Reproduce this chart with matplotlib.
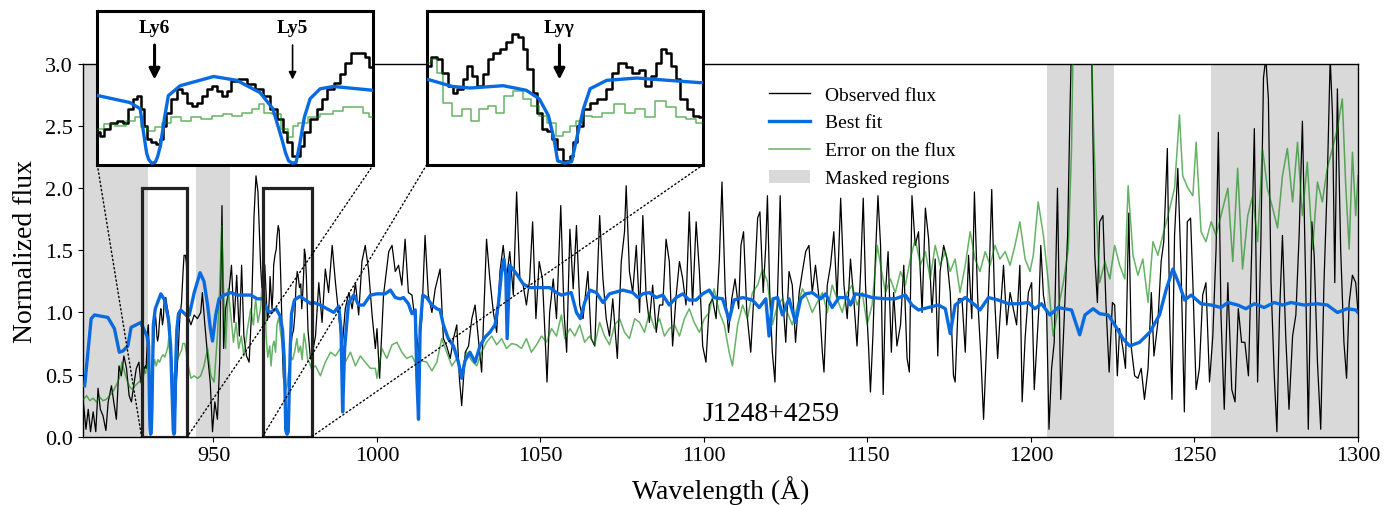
"""Lyman-series fit of J1248+4259: observed flux, best fit, error and masked regions,
with two zoom-in insets on Ly6/Ly5 and Ly-gamma."""
import numpy as np
import matplotlib.pyplot as plt
from matplotlib.patches import Rectangle, Patch, ConnectionPatch
from matplotlib.lines import Line2D

plt.rcParams.update({
    "font.family": "serif", "font.serif": ["Liberation Serif", "DejaVu Serif"],
    "font.size": 16, "xtick.labelsize": 16, "ytick.labelsize": 16,
    "axes.labelsize": 20, "axes.linewidth": 1.0,
})

# ------------------------------------------------------------
# data (rest-frame wavelength in A, normalized flux)
# ------------------------------------------------------------
obs_wave = [
    910.2, 911.0, 911.7, 912.4, 913.2, 914.0, 914.7, 915.4, 916.2, 917.1, 917.8, 918.8, 919.5, 920.3,
    921.1, 921.8, 922.6, 923.4, 924.2, 924.9, 925.6, 926.4, 927.2, 927.7,
    928.05, 928.2, 928.5, 928.8, 929.2, 929.4, 929.7, 929.9, 930.1, 930.3, 930.4, 930.6, 930.8, 931.1,
    931.3, 931.4, 931.6, 931.9, 932.2, 932.4, 932.7, 932.9, 933.2, 933.4, 933.7, 933.9, 934.2, 934.4,
    934.7, 934.9, 935.4, 935.8, 936.2, 936.6, 936.9, 937.3, 937.5, 937.7, 938.0, 938.2, 938.4, 938.6,
    939.0, 939.3, 939.5, 939.8, 940.2, 940.4, 940.7, 941.0, 941.4, 941.7, 941.9,
    942.1, 943.1, 944.1, 945.1, 946.1, 946.6, 947.3, 948.2, 949.0, 949.7, 950.4, 951.2, 951.9, 952.6,
    953.1, 953.7, 954.8, 955.5, 956.3, 957.1, 957.9, 958.6, 959.3, 960.1, 960.9, 961.6, 962.4, 963.0,
    963.6, 964.4, 964.8,
    965.1, 965.4, 965.7, 966.0, 966.3, 966.5, 966.8, 967.1, 967.3, 967.6, 967.9, 968.2, 968.4, 968.8,
    969.2, 969.4, 969.8, 970.1, 970.3, 970.6, 970.9, 971.1, 971.4, 971.7, 971.9, 972.2, 972.6, 972.9,
    973.0, 973.3, 973.7, 974.0, 974.5, 974.9, 975.2, 975.6, 976.0, 976.3, 976.7, 977.0, 977.3, 977.6,
    977.8, 978.1, 978.4, 978.6, 978.9, 979.3, 979.6, 979.9,
    981.2, 982.2, 983.2, 984.2, 985.2, 986.3, 987.3, 988.3, 989.3, 990.3, 991.4, 992.4, 993.4, 994.4,
    995.4, 996.4, 997.4, 998.5, 999.5,
    1000.0, 1000.8, 1002.0, 1003.6, 1004.6, 1005.6, 1006.6, 1007.6, 1008.6, 1009.6, 1010.7, 1011.7,
    1012.7, 1013.7, 1014.7, 1015.7, 1016.8, 1017.8, 1019.3, 1020.3, 1021.3, 1022.4, 1023.4, 1024.4,
    1025.2, 1025.9, 1027.0, 1028.0, 1029.0, 1030.0, 1031.0, 1032.0, 1033.5, 1034.5, 1035.6, 1036.6,
    1037.6, 1038.6, 1039.6, 1040.6, 1041.7, 1042.7, 1043.7, 1044.7, 1045.7, 1046.7, 1047.6, 1048.6,
    1049.6, 1050.6, 1051.3, 1052.0, 1052.8, 1053.9, 1054.9, 1056.2, 1057.2, 1058.0, 1059.0, 1060.0,
    1061.0, 1062.0, 1063.0, 1064.5, 1065.5, 1066.6, 1068.1, 1069.1, 1070.1, 1071.1, 1072.1, 1073.5,
    1074.7, 1075.7, 1076.2, 1077.2, 1078.2, 1079.3, 1080.3, 1081.3, 1082.3, 1083.3, 1084.3, 1085.4,
    1086.4, 1087.4, 1088.4, 1089.4, 1090.4, 1091.5, 1092.5, 1093.5, 1094.5, 1095.5, 1096.5, 1097.6,
    1098.6, 1099.6, 1100.6, 1101.6, 1102.6, 1103.7,
    1104.7, 1105.5, 1106.5, 1107.5, 1108.5, 1109.5, 1110.6, 1111.3, 1112.1, 1113.1, 1114.3, 1115.3,
    1116.4, 1117.1, 1118.1, 1118.9, 1119.4, 1120.1, 1120.9, 1121.7, 1122.8, 1123.3, 1124.0, 1125.0,
    1126.0, 1127.0, 1128.0, 1129.1, 1130.1, 1131.1, 1132.1, 1133.1, 1134.1, 1135.2, 1136.2, 1136.7,
    1137.7, 1138.7, 1139.7, 1140.7, 1141.8, 1142.8, 1143.8, 1144.8, 1145.8, 1146.8, 1147.9, 1148.7,
    1149.4, 1150.4, 1150.9, 1151.7, 1152.4, 1153.2, 1154.0, 1154.8, 1155.5, 1156.3, 1157.3, 1158.0,
    1159.0, 1160.1, 1161.1, 1162.1, 1162.8, 1163.6, 1164.6, 1165.6, 1166.7, 1167.7, 1168.7, 1169.7,
    1170.7, 1171.5, 1172.2, 1173.3, 1174.3, 1175.3, 1176.3, 1176.8, 1177.8, 1178.9, 1179.9, 1180.9,
    1181.9, 1182.7, 1183.7, 1184.7, 1185.5, 1186.5, 1187.3, 1188.0, 1188.8, 1189.8, 1190.5, 1191.6,
    1192.6, 1193.6, 1194.6, 1195.6, 1196.6, 1197.3, 1198.2, 1199.2,
    1200.2, 1201.0, 1201.7, 1202.4, 1203.0, 1203.8, 1204.8, 1205.5, 1206.3, 1207.1, 1208.1, 1209.1,
    1210.2, 1211.2, 1211.9, 1212.4, 1213.4, 1215.4, 1217.5, 1218.5, 1219.5, 1220.3, 1221.0, 1222.0,
    1222.9, 1223.9, 1224.9, 1225.6, 1226.4, 1227.1, 1228.1, 1228.9, 1229.9, 1230.7, 1231.7, 1232.7,
    1233.7, 1234.7, 1235.8, 1236.8, 1237.6, 1238.8, 1239.8, 1240.6, 1241.7, 1242.4, 1243.1, 1243.9,
    1244.9, 1245.9, 1246.9, 1247.8, 1248.8, 1249.5, 1250.5, 1251.5, 1252.5, 1253.5, 1254.6, 1255.6,
    1256.6, 1257.3, 1258.1, 1259.1, 1260.2, 1261.4, 1262.4, 1263.4, 1264.4, 1265.4, 1266.5, 1267.5,
    1268.3, 1269.3, 1270.3, 1271.1, 1271.8, 1272.6, 1273.4, 1274.4, 1275.2, 1276.0, 1276.9, 1277.9,
    1278.9, 1280.0, 1281.0, 1282.0, 1283.0, 1284.0, 1284.8, 1285.9, 1286.6, 1287.6, 1288.6, 1289.6,
    1290.6, 1291.5, 1292.2, 1292.9, 1293.7, 1294.7, 1295.7, 1296.5, 1297.3, 1298.3, 1299.3, 1300.0,
]
obs_flux = [
    0.28, 0.06, 0.22, 0.04, 0.20, 0.04, 0.39, 0.22, 0.17, 0.05, 0.28, 0.41, 0.28, 0.14,
    0.57, 0.49, 0.65, 0.55, 0.33, 0.28, 0.41, 0.55, 0.60, 0.45,
    0.42, 0.38, 0.46, 0.55, 0.57, 0.55, 0.73, 0.86, 0.90, 0.73, 0.51, 0.33, 0.29, 0.27,
    0.33, 0.51, 0.68, 0.86, 0.99, 0.94, 0.81, 0.77, 0.81, 0.90, 0.99, 1.03, 0.96, 0.90,
    0.96, 1.09, 1.12, 1.05, 0.99, 0.90, 0.73, 0.60, 0.42, 0.29, 0.12, 0.12, 0.25, 0.42,
    0.60, 0.73, 0.86, 0.99, 1.07, 1.18, 1.33, 1.46, 1.46, 1.40, 1.27,
    0.98, 0.90, 0.98, 0.95, 1.00, 1.16, 0.92, 0.65, 0.44, 0.04, 0.28, 0.14, 0.60, 1.86,
    0.71, 1.03, 1.19, 1.38, 0.92, 1.30, 0.81, 1.38, 0.81, 0.65, 0.60, 0.98, 1.78, 2.10,
    1.97, 1.38, 1.20,
    1.29, 1.40, 1.38, 1.20, 1.03, 0.94, 0.99, 1.12, 1.29, 1.16, 1.03, 1.18, 1.38, 1.46,
    1.51, 1.60, 1.70, 1.66, 1.51, 1.25, 0.94, 0.68, 0.47, 0.44, 0.33, 0.20, 0.05, 0.12,
    0.29, 0.51, 0.73, 0.81, 0.86, 0.99, 1.20, 1.33, 1.27, 1.20, 1.23, 1.03, 1.16, 1.33,
    1.51, 1.46, 1.29, 1.12, 0.86, 0.73, 0.64, 0.62,
    0.81, 1.24, 0.92, 1.35, 1.16, 1.54, 1.24, 0.98, 0.70, 1.03, 1.16, 1.03, 1.24, 0.98,
    1.41, 1.54, 1.35, 0.98, 0.71,
    0.87, 0.47, 1.14, 1.49, 1.54, 1.33, 1.38, 1.22, 1.59, 1.16, 1.14, 0.92,
    0.68, 0.95, 1.62, 1.14, 1.00, 1.19, 1.35, 0.79, 0.73, 0.63, 0.79, 0.90,
    0.47, 0.25, 0.68, 0.73, 0.95, 1.06, 0.79, 0.52, 1.59, 1.27, 1.00, 0.84,
    1.33, 1.54, 1.27, 1.49, 1.14, 1.97, 1.27, 1.22, 1.06, 1.27, 1.73, 0.95,
    1.41, 1.27, 0.87, 0.44, 1.00, 1.27, 0.95, 1.86, 1.00, 0.68, 1.67, 1.19,
    1.70, 1.06, 0.95, 1.33, 0.79, 0.73, 1.78, 1.27, 0.95, 0.81, 1.11, 0.63,
    1.41, 1.65, 2.02, 1.33, 1.16, 1.54, 1.00, 1.78, 1.14, 0.92, 1.22, 0.84,
    1.06, 1.06, 1.59, 1.41, 0.73, 1.14, 1.41, 1.27, 1.06, 1.81, 1.06, 1.73,
    1.33, 0.73, 0.60, 1.06, 1.11, 0.95,
    1.43, 2.05, 1.16, 0.84, 1.11, 1.27, 1.03, 1.54, 1.65, 1.00, 0.68, 1.16,
    1.76, 1.81, 1.16, 1.54, 1.94, 1.16, 0.68, 0.44, 1.43, 1.94, 1.16, 0.76,
    1.33, 1.22, 0.76, 1.16, 1.33, 1.49, 1.54, 1.16, 1.38, 1.11, 0.68, 0.52,
    1.22, 1.38, 1.65, 1.11, 1.92, 1.22, 0.95, 1.43, 1.11, 0.73, 1.33, 1.92,
    1.22, 0.68, 0.36, 0.84, 1.43, 1.94, 1.54, 0.34, 1.16, 1.49, 0.68, 1.16,
    0.73, 0.90, 1.38, 0.63, 0.52, 1.94, 1.54, 1.65, 1.00, 1.84, 1.59, 1.00,
    1.43, 0.65, 1.33, 1.54, 1.43, 1.16, 0.49, 0.44, 1.11, 1.11, 0.68, 1.46,
    0.95, 1.97, 1.11, 0.63, 0.14, 0.79, 1.38, 1.99, 1.16, 0.63, 0.95, 1.38,
    0.90, 1.16, 1.03, 0.90, 1.38, 0.28, 0.79, 1.16,
    1.24, 0.38, 0.71, 1.03, 1.54, 1.14, 0.98, 0.06, 0.55, 0.76, 2.00, 0.30,
    0.98, 1.62, 2.59, 3.20, 4.00, 4.50, 4.00, 3.20, 1.46, 1.08, 1.73, 1.78,
    1.08, 0.52, 1.08, 1.06, 0.49, 0.87, 0.71, 0.55, 1.80, 0.71, 0.49, 0.47,
    0.55, 0.30, 0.55, 1.16, 0.65, 0.92, 1.41, 1.57, 2.32, 0.98, 0.30, 1.62,
    2.16, 1.35, 0.20, 1.73, 1.76, 1.24, 0.38, 0.55, 1.14, 1.24, 0.44, 0.81,
    1.51, 2.45, 0.98, 0.22, 1.24, 0.38, 0.28, 1.03, 0.76, 0.76, 0.49, 1.51,
    2.48, 0.44, 1.57, 2.89, 3.05, 2.72, 1.24, 0.49, 0.04, 0.98, 1.62, 0.81,
    0.22, 0.81, 0.98, 1.62, 2.54, 1.24, 0.06, 1.73, 1.46, 0.60, 0.06, 1.24,
    2.05, 3.05, 2.59, 1.24, 2.80, 1.51, 0.76, 0.47, 1.08, 1.30, 1.24, 1.00,
]

err_wave = [
    910.2, 911.2, 912.2, 913.2, 914.2, 915.2, 916.2, 917.2, 918.2, 919.2, 920.2, 921.2, 922.0, 922.8,
    923.6, 924.4, 925.2, 926.0, 926.8, 927.6,
    928.1, 928.6, 929.2, 929.7, 930.1, 930.3, 930.7, 931.1, 931.5, 932.0, 932.5, 933.0, 933.5, 934.1,
    934.6, 935.1, 935.6, 936.1, 936.3, 936.6, 937.1, 937.5, 937.8, 938.0, 938.4, 939.0, 939.6, 940.3,
    940.6, 941.2, 941.7, 941.9,
    943.1, 944.1, 945.1, 946.1, 947.1, 948.2, 949.2, 950.2, 951.2, 951.9, 952.5, 953.0, 953.7, 954.5,
    955.3, 956.1, 956.9, 957.7, 958.5, 959.3, 960.4, 961.4, 962.2, 962.9, 963.6, 964.4,
    965.1, 965.4, 965.7, 966.1, 966.6, 967.2, 967.6, 968.1, 968.5, 969.0, 969.4, 970.0, 970.4, 970.9,
    971.3, 971.8, 972.2, 972.6, 972.9, 973.3, 973.7, 974.2, 974.8, 975.5, 976.0, 976.6, 977.1, 977.7,
    978.2, 978.8, 979.3, 979.9,
    981.2, 982.7, 984.2, 985.8, 987.3, 988.8, 990.3, 991.9, 993.4, 994.9, 996.4, 998.0, 999.5,
    1000.0, 1001.5, 1003.0, 1004.6, 1006.1, 1007.6, 1009.1, 1010.7, 1012.2, 1013.7, 1015.2, 1016.8,
    1018.3, 1019.8, 1021.3, 1022.9, 1024.4, 1025.9, 1027.4, 1029.0, 1030.5, 1032.0, 1033.5, 1035.1,
    1036.6, 1038.1, 1039.6, 1041.2, 1042.7, 1044.2, 1045.7, 1047.2, 1048.8, 1050.3, 1051.8, 1053.4,
    1054.9, 1056.4, 1057.4, 1059.0, 1060.5, 1062.0, 1063.5, 1065.0, 1066.6, 1068.1, 1069.6, 1071.1,
    1072.7, 1074.2, 1075.7, 1077.2, 1078.8, 1080.3, 1081.8, 1083.3, 1084.9, 1086.4, 1087.9, 1089.4,
    1091.0, 1092.5, 1094.0, 1095.5, 1097.0, 1098.6, 1100.1, 1101.6, 1103.1,
    1104.7, 1106.2, 1107.7, 1108.7, 1110.3, 1111.8, 1113.3, 1114.8, 1116.4, 1117.9, 1119.4, 1120.9,
    1122.5, 1124.0, 1125.5, 1127.0, 1128.6, 1130.1, 1131.6, 1133.1, 1134.6, 1136.2, 1137.7, 1139.2,
    1140.7, 1142.3, 1143.8, 1145.3, 1146.8, 1148.4, 1149.9, 1151.4, 1153.0, 1154.0, 1155.5, 1157.0,
    1158.5, 1160.1, 1161.6, 1163.1, 1164.6, 1166.2, 1167.7, 1169.2, 1170.7, 1172.2, 1173.8, 1175.3,
    1176.8, 1178.3, 1179.9, 1181.4, 1182.9, 1184.4, 1186.0, 1187.5, 1189.0, 1190.5, 1192.1, 1193.6,
    1195.1, 1196.6, 1198.2, 1199.7,
    1200.7, 1202.2, 1203.8, 1205.3, 1206.8, 1208.3, 1209.9, 1211.4, 1212.4, 1212.9, 1214.4, 1217.0,
    1218.5, 1219.0, 1220.0, 1221.0, 1222.6, 1224.1, 1225.6, 1227.1, 1228.7, 1229.7, 1231.2, 1232.7,
    1234.2, 1235.8, 1237.3, 1238.8, 1240.3, 1241.9, 1243.9, 1245.4, 1246.4, 1248.0, 1249.5, 1250.5,
    1252.0, 1253.5, 1255.1, 1256.6, 1258.1, 1260.2, 1261.7, 1263.2, 1264.7, 1266.3, 1267.8, 1269.3,
    1270.8, 1272.3, 1273.9, 1275.4, 1276.9, 1278.4, 1280.0, 1281.5, 1283.0, 1284.5, 1286.1, 1287.6,
    1289.1, 1290.6, 1292.2, 1293.7, 1295.2, 1296.2, 1297.3, 1298.3, 1299.3, 1300.0,
]
err_flux = [
    0.30, 0.33, 0.29, 0.31, 0.28, 0.32, 0.29, 0.30, 0.33, 0.36, 0.41, 0.47, 0.60, 0.52,
    0.45, 0.40, 0.38, 0.41, 0.43, 0.45,
    0.47, 0.53, 0.51, 0.57, 0.62, 0.49, 0.44, 0.49, 0.55, 0.62, 0.57, 0.62, 0.60, 0.64,
    0.66, 0.64, 0.68, 0.73, 0.79, 0.68, 0.66, 0.47, 0.36, 0.51, 0.55, 0.62, 0.66, 0.70,
    0.75, 0.75, 0.68, 0.62,
    0.47, 0.49, 0.47, 0.49, 0.57, 0.71, 0.49, 0.44, 0.81, 1.19, 1.70, 1.24, 0.71, 1.19,
    0.98, 0.76, 0.92, 0.71, 0.81, 0.65, 0.87, 1.03, 0.90, 1.11, 0.92, 1.03,
    1.33, 1.38, 1.20, 0.81, 0.64, 0.73, 0.57, 0.73, 0.77, 0.68, 0.90, 0.96, 0.86, 0.77,
    0.64, 0.55, 0.38, 0.42, 0.51, 0.57, 0.64, 0.62, 0.68, 0.79, 0.68, 0.73, 0.62, 0.83,
    0.75, 0.62, 0.60, 0.55,
    0.57, 0.49, 0.60, 0.68, 0.65, 0.71, 0.60, 0.68, 0.57, 0.65, 0.60, 0.55, 0.55,
    0.47, 0.71, 0.63, 0.74, 0.76, 0.68, 0.63, 0.65, 0.57, 0.61, 0.60, 0.53,
    0.60, 0.79, 0.68, 0.57, 0.63, 0.52, 0.68, 0.61, 0.57, 0.68, 0.76, 0.81,
    0.74, 0.79, 0.71, 0.75, 0.74, 0.71, 0.79, 0.68, 0.74, 0.81, 0.76, 0.87,
    0.81, 0.98, 0.79, 0.87, 0.81, 0.90, 0.76, 0.81, 0.74, 0.92, 0.81, 0.74,
    0.90, 0.95, 0.84, 0.79, 0.95, 0.92, 0.84, 1.00, 0.87, 0.95, 0.81, 0.87,
    0.90, 0.81, 0.95, 1.03, 0.92, 0.84, 0.95, 1.00, 1.19,
    1.00, 0.90, 0.68, 0.57, 0.90, 1.06, 0.95, 1.16, 1.22, 1.35, 1.25, 0.90,
    1.06, 1.11, 1.00, 0.90, 1.06, 1.19, 1.11, 1.00, 1.08, 1.16, 1.00, 1.22,
    1.11, 1.00, 1.16, 1.22, 1.06, 1.16, 0.90, 1.06, 1.54, 1.38, 1.16, 1.27,
    1.16, 1.33, 1.22, 1.43, 1.59, 1.38, 1.49, 1.27, 1.54, 1.38, 1.49, 1.33,
    1.43, 1.16, 1.38, 1.65, 1.43, 1.33, 1.49, 1.38, 1.54, 1.43, 1.49, 1.38,
    1.54, 1.73, 1.43, 1.33,
    1.46, 1.89, 1.62, 1.24, 0.81, 1.03, 1.24, 1.51, 2.32, 3.20, 4.00, 4.00,
    3.20, 2.59, 1.78, 1.24, 1.41, 1.27, 1.54, 1.38, 1.27, 2.02, 1.46, 1.30,
    1.43, 1.08, 1.57, 1.46, 1.62, 1.78, 2.00, 2.59, 2.10, 2.00, 1.94, 2.37,
    1.65, 1.57, 1.73, 1.62, 1.78, 2.00, 1.41, 2.16, 1.35, 1.78, 1.94, 1.57,
    2.32, 2.00, 1.84, 1.68, 2.10, 2.32, 1.89, 2.37, 1.78, 2.21, 1.51, 2.05,
    1.89, 2.16, 2.32, 2.48, 2.72, 2.05, 1.51, 2.29, 1.78, 2.10,
]

fit_wave = [
    910.6, 912.6, 913.6, 917.7, 919.7, 921.2, 922.3, 923.8, 924.8, 926.3, 927.8,
    928.05, 929.66, 930.17, 930.34, 930.5, 930.6, 930.75, 930.93, 931.05, 931.2, 931.4, 931.6, 932.2,
    933.9, 935.07, 936.25, 936.9, 937.35, 937.55, 937.7, 937.9, 938.08, 938.28, 938.5, 938.79, 939.3,
    939.97, 942.0,
    942.6, 944.1, 945.9, 947.1, 948.2, 949.0, 949.7, 950.7, 951.7, 953.2, 955.3, 957.3, 959.3, 961.4,
    963.4,
    965.09, 966.4, 967.35, 969.15, 970.4, 971.1, 971.6, 971.9, 972.1, 972.5, 972.86, 973.13, 973.5,
    973.86, 974.76, 976.4, 979.8,
    980.7, 982.7, 984.7, 986.8, 988.3, 989.0, 989.5, 990.1, 991.3, 992.9, 994.4, 995.9, 998.0,
    1000.0, 1002.5, 1004.1, 1005.6, 1007.1, 1008.1, 1009.6, 1010.7, 1011.7, 1012.2, 1012.7, 1013.2,
    1014.0, 1015.2, 1016.8, 1018.3, 1019.3, 1020.3, 1021.8, 1023.4, 1024.9, 1025.9, 1026.9, 1028.4,
    1030.0, 1031.5, 1033.0, 1034.5, 1036.1, 1037.1, 1038.1, 1038.8, 1039.4, 1039.8, 1040.6, 1042.7,
    1044.7, 1046.7, 1049.8, 1052.8, 1054.9, 1056.4, 1057.9, 1059.4, 1061.0, 1062.2, 1063.5, 1065.1,
    1067.1, 1069.1, 1071.1, 1075.2, 1078.2, 1079.8, 1081.3, 1083.3, 1085.4, 1087.4, 1089.4, 1091.5,
    1093.5, 1095.5, 1097.6,
    1099.6, 1101.6, 1103.1, 1105.7, 1107.7, 1109.2, 1111.8, 1114.8, 1116.9, 1118.9, 1119.9, 1121.1,
    1122.5, 1124.0, 1126.0, 1128.0, 1129.6, 1131.1, 1133.1, 1135.7, 1137.2, 1139.2, 1141.3, 1143.8,
    1144.8, 1146.3, 1148.9, 1151.4, 1155.5, 1158.5, 1161.6, 1163.6, 1165.6, 1168.7, 1171.7, 1173.8,
    1175.3, 1176.8, 1179.9, 1182.9, 1184.4, 1187.0, 1190.0, 1193.1, 1196.1, 1199.2,
    1201.2, 1203.2, 1205.8, 1208.3, 1212.4, 1214.9, 1216.5, 1219.0, 1221.0, 1223.6, 1225.6, 1228.1,
    1230.2, 1233.2, 1236.3, 1239.3, 1241.4, 1243.4, 1245.4, 1247.0, 1249.0, 1252.0, 1255.1, 1258.1,
    1260.2, 1263.2, 1265.7, 1268.3, 1271.3, 1274.4, 1276.9, 1279.5, 1283.5, 1287.6, 1290.6, 1293.7,
    1296.7, 1299.3, 1300.0,
]
fit_flux = [
    0.41, 0.95, 0.98, 0.96, 0.87, 0.68, 0.69, 0.73, 0.88, 0.90, 0.92,
    0.90, 0.81, 0.73, 0.42, 0.15, 0.07, 0.02, 0.03, 0.10, 0.25, 0.60, 0.90, 1.03,
    1.15, 1.10, 0.94, 0.73, 0.34, 0.15, 0.05, 0.02, 0.03, 0.29, 0.62, 0.86, 0.99,
    1.02, 0.97,
    0.98, 1.16, 1.32, 1.25, 1.06, 0.88, 0.77, 0.98, 1.11, 1.14, 1.16, 1.14, 1.14, 1.14,
    1.11,
    1.11, 1.02, 1.00, 1.03, 0.97, 0.86, 0.64, 0.34, 0.05, 0.02, 0.04, 0.34, 0.73,
    0.99, 1.10, 1.13, 1.07,
    1.08, 1.06, 1.03, 1.00, 1.05, 0.87, 0.20, 0.71, 1.08, 1.14, 1.06, 1.06, 1.14,
    1.15, 1.15, 1.18, 1.12, 1.11, 1.12, 1.07, 0.99, 1.02, 0.47, 0.14, 0.87,
    1.14, 1.12, 1.06, 1.03, 1.02, 0.90, 0.79, 0.73, 0.60, 0.47, 0.61, 0.68,
    0.60, 0.73, 0.80, 0.84, 0.90, 1.06, 1.33, 1.43, 1.30, 0.79, 1.38, 1.31,
    1.23, 1.20, 1.20, 1.20, 1.16, 1.14, 1.15, 1.16, 1.00, 0.95, 1.08, 1.18,
    1.16, 1.08, 1.15, 1.18, 1.16, 1.12, 1.15, 1.16, 1.12, 1.14, 1.06, 1.12,
    1.15, 1.10, 1.10,
    1.15, 1.18, 1.12, 1.11, 0.94, 1.10, 1.12, 1.10, 1.04, 1.11, 0.81, 1.11,
    1.12, 0.98, 1.11, 0.92, 1.11, 1.15, 1.16, 1.11, 1.15, 1.04, 1.12, 1.12,
    1.06, 1.15, 1.14, 1.12, 1.11, 1.11, 1.14, 1.06, 1.02, 1.04, 1.06, 1.03,
    0.83, 1.06, 1.12, 1.06, 1.02, 1.12, 1.10, 1.07, 1.07, 1.08,
    1.03, 1.07, 0.98, 1.04, 1.02, 0.82, 0.98, 1.03, 0.99, 0.98, 0.90, 0.79,
    0.73, 0.76, 0.84, 0.98, 1.19, 1.35, 1.22, 1.10, 1.14, 1.07, 1.06, 1.04,
    1.08, 1.06, 1.03, 1.07, 1.04, 1.08, 1.06, 1.08, 1.06, 1.07, 1.06, 1.00,
    1.03, 1.02, 1.00,
]

masked_regions = [(910, 930.1), (944.6, 955.0), (1204.9, 1225.3), (1254.9, 1300)]
zoom_windows = [(928, 942), (965, 980)]
line_marks = [[("Ly6", 930.9, "thick"), ("Ly5", 937.9, "thin")], [("Ly\u03b3", 972.2, "thick")]]
qso_name = "J1248+4259"

OBS_C, FIT_C, ERR_C, MASK_C = "black", "#0a6ae0", "green", "#d9d9d9"

fig = plt.figure(figsize=(13.85, 5.06), dpi=100)
ax = fig.add_axes([0.0597, 0.135, 0.9208, 0.7365])

for lo, hi in masked_regions:
    ax.axvspan(lo, hi, color=MASK_C, lw=0, zorder=0)
ax.plot(obs_wave, obs_flux, color=OBS_C, lw=0.9, zorder=2)
ax.plot(err_wave, err_flux, color=ERR_C, lw=1.1, alpha=0.6, zorder=3)
ax.plot(fit_wave, fit_flux, color=FIT_C, lw=2.4, zorder=4)

ax.set_xlim(910, 1300)
ax.set_ylim(0, 3.0)
ax.set_xticks(np.arange(950, 1301, 50))
ax.set_yticks(np.arange(0, 3.01, 0.5))
ax.set_xlabel("Wavelength (\u00c5)", labelpad=7)
ax.set_ylabel("Normalized flux", labelpad=5)
ax.text(1120.5, 0.19, qso_name, fontsize=20, ha="center", va="center")

handles = [
    Line2D([], [], color=OBS_C, lw=1.0, label="Observed flux"),
    Line2D([], [], color=FIT_C, lw=2.4, label="Best fit"),
    Line2D([], [], color=ERR_C, lw=1.1, alpha=0.6, label="Error on the flux"),
    Patch(facecolor=MASK_C, edgecolor="none", label="Masked regions"),
]
ax.legend(handles=handles, loc="upper left", bbox_to_anchor=(0.532, 0.962), frameon=False,
          fontsize=14, handlelength=2.1, handletextpad=0.8, labelspacing=0.53, borderaxespad=0)

# ============================================================
# insets + rectangles + dotted connectors
# ============================================================
inset_boxes = [[0.0703, 0.6725, 0.1993, 0.3032], [0.3081, 0.6725, 0.1997, 0.3032]]
for box, (lo, hi), marks in zip(inset_boxes, zoom_windows, line_marks):
    ax.add_patch(Rectangle((lo, 0), hi - lo, 2.0, fill=False, ec="#222222", lw=2.3, zorder=6))
    axin = fig.add_axes(box)
    axin.plot(obs_wave, obs_flux, color=OBS_C, lw=1.8, drawstyle="steps-mid", zorder=2)
    axin.plot(err_wave, err_flux, color=ERR_C, lw=1.1, alpha=0.6, drawstyle="steps-mid", zorder=3)
    axin.plot(fit_wave, fit_flux, color=FIT_C, lw=2.4, zorder=4)
    axin.set_xlim(lo, hi)
    axin.set_ylim(0, 2.0)
    axin.set_xticks([])
    axin.set_yticks([])
    for sp in axin.spines.values():
        sp.set_linewidth(2.2)
    for name, wl, style in marks:
        lw, ms = (2.2, 16) if style == "thick" else (1.2, 11)
        axin.annotate("", xy=(wl, 1.11), xytext=(wl, 1.56),
                      arrowprops=dict(arrowstyle="-|>", lw=lw, color="black", mutation_scale=ms,
                                      shrinkA=0, shrinkB=0))
        axin.text(wl, 1.79, name, fontsize=14, fontweight="bold", ha="center", va="center")
    for xa, xb in [(0, lo), (1, hi)]:
        con = ConnectionPatch(xyA=(xa, 0), coordsA=axin.transAxes, xyB=(xb, 0), coordsB=ax.transData,
                              ls=(0, (1, 2)), lw=1.0, color="black", zorder=1)
        fig.add_artist(con)

fig.savefig("out.png", dpi=100)
